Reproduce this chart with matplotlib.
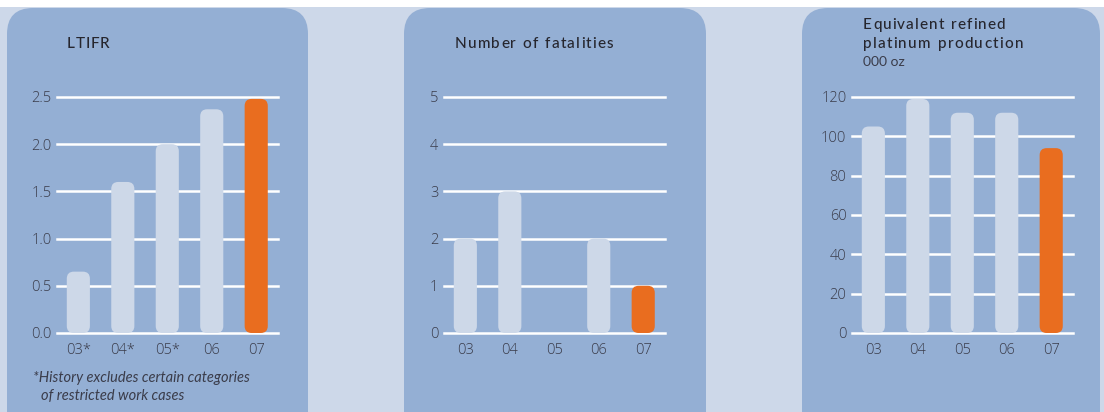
import numpy as np
import matplotlib.pyplot as plt
from matplotlib.patches import FancyBboxPatch, Rectangle

# data
years_ltifr = ['03*', '04*', '05*', '06', '07']
ltifr = [0.65, 1.6, 2.0, 2.37, 2.48]

years = ['03', '04', '05', '06', '07']
fatalities = [2, 3, 0, 2, 1]
platinum = [105, 119, 112, 112, 94]

BG = '#cdd8e9'
PANEL = '#94afd4'
BAR = '#cdd8e8'
ORANGE = '#e96d1f'
TEXT = '#3a3c4a'

W, H = 1104, 412
fig = plt.figure(figsize=(W / 100, H / 100), dpi=100)
fig.patch.set_facecolor(BG)

# background layer in pixel coords
bg = fig.add_axes([0, 0, 1, 1])
bg.set_xlim(0, W)
bg.set_ylim(H, 0)
bg.axis('off')
bg.add_patch(Rectangle((0, 0), W, 7, facecolor='white', edgecolor='none'))
for x0, x1 in [(7, 308), (404, 706), (802, 1100)]:
    bg.add_patch(FancyBboxPatch((x0, 8), x1 - x0, 440,
                                boxstyle='round,pad=0,rounding_size=26',
                                facecolor=PANEL, edgecolor='none'))


def px_axes(left, top, width, height):
    return fig.add_axes([left / W, 1 - (top + height) / H, width / W, height / H])


def tracked_text(x, y, s, width, **kw):
    # lay out characters one by one so the line spans the given pixel width
    renderer = fig.canvas.get_renderer()
    widths = []
    for ch in s:
        t = bg.text(0, 0, ch if ch != ' ' else 'n', **kw)
        bb = t.get_window_extent(renderer)
        widths.append(bb.width * (0.55 if ch == ' ' else 1.0))
        t.remove()
    gap = (width - sum(widths)) / max(len(s) - 1, 1)
    cx = x
    for ch, w in zip(s, widths):
        if ch != ' ':
            bg.text(cx, y, ch, **kw)
        cx += w + gap


def rounded_bars(ax, labels, values, ymax, yticks, fmt, radius=7):
    n = len(values)
    ax.set_xlim(-0.48, n - 1 + 0.49)
    ax.set_ylim(0, ymax)
    bars = ax.bar(range(n), values, width=0.52)
    # convert to rounded boxes; keep corner radius equal in pixels
    fig.canvas.draw()
    (x0, y0), (x1, y1) = ax.transData.transform([(0, 0), (1, 1)])
    px_x, px_y = x1 - x0, y1 - y0
    for i, rect in enumerate(bars):
        h = rect.get_height()
        if h <= 0:
            rect.remove()
            continue
        r = min(radius / px_x, h * px_y / px_x / 2)
        patch = FancyBboxPatch(rect.get_xy(), rect.get_width(), h,
                               boxstyle=f'round,pad=0,rounding_size={r}',
                               mutation_aspect=px_x / px_y,
                               facecolor=ORANGE if i == n - 1 else BAR,
                               edgecolor='none', zorder=3, clip_on=False)
        rect.remove()
        ax.add_patch(patch)
    ax.set_xticks(range(n))
    ax.set_xticklabels(labels)
    ax.set_yticks(yticks)
    ax.set_yticklabels([fmt(v) for v in yticks])
    ax.patch.set_alpha(0)
    for s in ax.spines.values():
        s.set_visible(False)
    ax.tick_params(length=0, colors=TEXT, labelsize=10.5)
    ax.tick_params(axis='y', pad=4)
    ax.tick_params(axis='x', pad=7)
    for lab in ax.get_xticklabels() + ax.get_yticklabels():
        lab.set_family('Open Sans')
        lab.set_fontweight('light')
    ax.set_axisbelow(True)
    ax.yaxis.grid(True, color='white', linewidth=1.8)
    for gl in ax.yaxis.get_gridlines():
        gl.set_clip_on(False)


ax1 = px_axes(57, 97, 221, 236)
rounded_bars(ax1, years_ltifr, ltifr, 2.5, np.arange(0, 2.51, 0.5), lambda v: f'{v:.1f}')

ax2 = px_axes(444, 97, 221, 236)
rounded_bars(ax2, years, fatalities, 5, range(0, 6), lambda v: f'{v}')

ax3 = px_axes(852, 97, 221, 236)
rounded_bars(ax3, years, platinum, 120, range(0, 121, 20), lambda v: f'{v}')

title_kw = dict(fontsize=11, color='#26262e', family='Lato', fontweight='medium',
                va='center', ha='left')
fig.canvas.draw()
tracked_text(67, 44, 'LTIFR', 42, **title_kw)
tracked_text(455, 44, 'Number of fatalities', 158, **title_kw)
tracked_text(863, 25, 'Equivalent refined', 142, **title_kw)
tracked_text(863, 44, 'platinum production', 160, **title_kw)
bg.text(863, 62, '000 oz', fontsize=10, color=TEXT, family='Lato',
        va='center', ha='left')

foot_kw = dict(fontsize=10.5, color=TEXT, family='Lato', style='italic',
               va='center', ha='left')
bg.text(33, 378, '*History excludes certain categories', **foot_kw)
bg.text(41, 396, 'of restricted work cases', **foot_kw)

fig.savefig('out.png', dpi=100, facecolor=BG)
